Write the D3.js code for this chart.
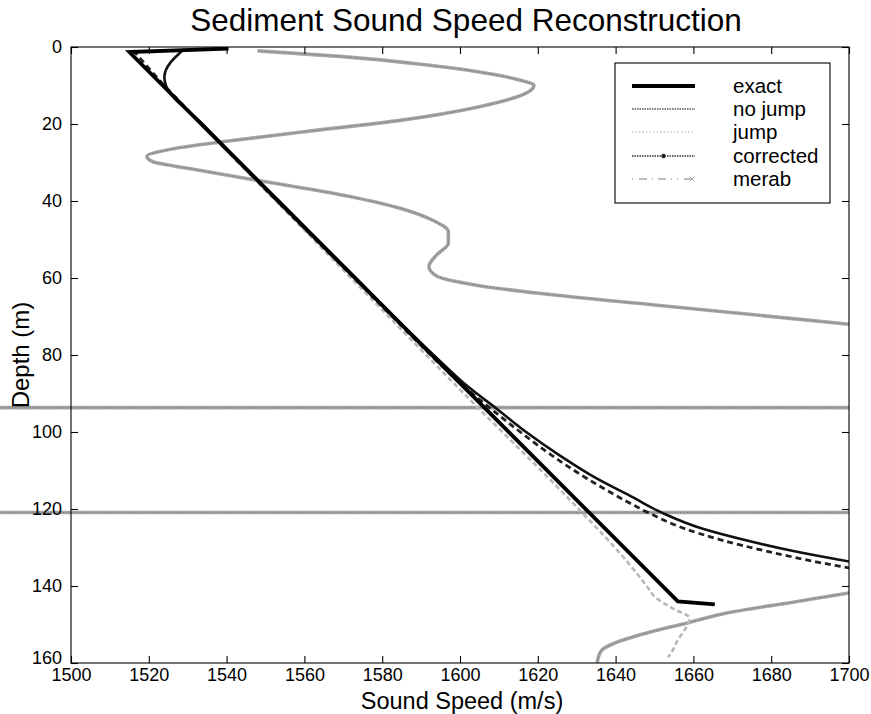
<!DOCTYPE html>
<html>
<head>
<meta charset="utf-8">
<script src="https://cdn.jsdelivr.net/npm/d3@7"></script>
<style>
  html, body { margin: 0; padding: 0; background: #fff; }
  svg { display: block; font-family: "Liberation Sans", Arial, Helvetica, sans-serif; }
</style>
</head>
<body>
<svg id="chart" width="871" height="714"></svg>
<script>
// Axis ticks
const speedTicks = [1500, 1520, 1540, 1560, 1580, 1600, 1620, 1640, 1660, 1680, 1700];
const depthTicks = [0, 20, 40, 60, 80, 100, 120, 140, 160];

// exact profile: surface step, linear gradient, basement jump
const exactDepth = [0.4, 1.3, 144.0, 144.8];
const exactSpeed = [1540.5, 1515.0, 1656.0, 1665.5];

// inversion without the jump term
const noJumpDepth = [0.6, 2, 4, 6, 8, 10, 20, 40, 60, 75, 82, 88, 94, 100, 106, 112, 117, 121, 125, 128, 131, 134, 137];
const noJumpSpeed = [1529.0, 1527.5, 1525.6, 1524.4, 1524.0, 1524.4, 1533.8, 1553.5, 1573.2, 1588.0, 1595.3, 1601.8, 1609.5, 1617.0, 1625.5, 1635.0, 1644.5, 1652.0, 1662.0, 1673.0, 1686.0, 1702.0, 1720.0];

// inversion with the jump term
const jumpDepth = [1.2, 30, 60, 90, 120, 132.5, 140, 143, 146, 148.3, 151, 154, 157, 158.5];
const jumpSpeed = [1515.0, 1543.0, 1572.0, 1601.0, 1630.5, 1642.0, 1648.0, 1650.3, 1655.0, 1659.0, 1658.0, 1656.0, 1654.5, 1653.5];

// corrected inversion
const correctedDepth = [0.9, 10, 20, 40, 60, 75, 82, 88, 94, 100, 106, 112, 117, 121, 125, 128, 131, 134, 137];
const correctedSpeed = [1516.0, 1524.0, 1533.5, 1553.0, 1572.8, 1587.5, 1594.5, 1600.8, 1608.0, 1615.5, 1623.5, 1632.5, 1641.0, 1648.5, 1657.5, 1667.0, 1679.0, 1693.0, 1710.0];

// merab reconstruction (leaves the axis range between ~72 m and ~142 m)
const merabDepth = [1.0, 2.5, 4.5, 6.5, 8.5, 10, 12, 15.5, 19, 22, 24.5, 26.5, 28.4, 29.8, 31.5, 35, 38.5, 42, 45, 48, 51, 54, 57, 59.5, 62, 64.5, 67, 69.5, 72, 77, 85, 92, 93.6, 93.8, 120.8, 121.0, 128, 134, 137.5, 139.5, 141.8, 144.2, 147, 149.6, 152.2, 154.8, 156.6, 158.7, 160];
const merabSpeed = [1548, 1570, 1590, 1605, 1615, 1619, 1617, 1605, 1585, 1560, 1540, 1526, 1519.5, 1521, 1530, 1550, 1570, 1585, 1593, 1597, 1597, 1594, 1592, 1594, 1605, 1625, 1650, 1675, 1700, 1750, 1850, 2200, 5000, -5000, -5000, 6000, 3000, 2000, 1760, 1714, 1700, 1685.6, 1668.6, 1658.4, 1648, 1639.8, 1636.5, 1635.5, 1635.3];

const legendLabels = ["exact", "no jump", "jump", "corrected", "merab"];

const svg = d3.select("#chart");
const margin = { top: 47, left: 71 };
const width = 778, height = 616;

const x = d3.scaleLinear().domain([1500, 1700]).range([0, width]);
const y = d3.scaleLinear().domain([0, 160]).range([0, height]);

const g = svg.append("g").attr("transform", `translate(${margin.left},${margin.top})`);

// clip: plot rectangle, opened to the page edge on the left
svg.append("defs").append("clipPath").attr("id", "plotClip")
  .append("rect").attr("x", -margin.left).attr("y", 0)
  .attr("width", width + margin.left).attr("height", height);

const zip = (ds, ss) => ds.map((d, i) => ({ d: d, s: ss[i] }));
const lineMono = d3.line().x(p => x(p.s)).y(p => y(p.d)).curve(d3.curveMonotoneY);
const lineLin = d3.line().x(p => x(p.s)).y(p => y(p.d));

const plot = g.append("g").attr("clip-path", "url(#plotClip)");

// merab: thick textured gray
plot.append("path").datum(zip(merabDepth, merabSpeed))
  .attr("d", lineMono).attr("fill", "none")
  .attr("stroke", "#a8a8a8").attr("stroke-width", 3.6);
plot.append("path").datum(zip(merabDepth, merabSpeed))
  .attr("d", lineMono).attr("fill", "none")
  .attr("stroke", "#858585").attr("stroke-width", 1.6).attr("stroke-dasharray", "1.5 1.5");

// jump: light gray dashes
plot.append("path").datum(zip(jumpDepth, jumpSpeed))
  .attr("d", lineMono).attr("fill", "none")
  .attr("stroke", "#b8b8b8").attr("stroke-width", 2.6).attr("stroke-dasharray", "5 3");

// corrected: dark dashes
plot.append("path").datum(zip(correctedDepth, correctedSpeed))
  .attr("d", lineMono).attr("fill", "none")
  .attr("stroke", "#222").attr("stroke-width", 2.8).attr("stroke-dasharray", "6 4");

// no jump: solid dark curve
plot.append("path").datum(zip(noJumpDepth, noJumpSpeed))
  .attr("d", lineMono).attr("fill", "none")
  .attr("stroke", "#111").attr("stroke-width", 2.6);

// exact: thick black
plot.append("path").datum(zip(exactDepth, exactSpeed))
  .attr("d", lineLin).attr("fill", "none")
  .attr("stroke", "#000").attr("stroke-width", 3.8).attr("stroke-linejoin", "miter");

// frame and inward ticks on all four sides
g.append("rect").attr("width", width).attr("height", height)
  .attr("fill", "none").attr("stroke", "#000").attr("stroke-width", 1.1);

const tickLen = 7;
const axisBottom = d3.axisBottom(x).tickValues(speedTicks).tickSize(-tickLen).tickPadding(5).tickFormat(d3.format("d"));
const axisTop = d3.axisTop(x).tickValues(speedTicks).tickSize(-tickLen).tickFormat("");
const axisLeft = d3.axisLeft(y).tickValues(depthTicks).tickSize(-tickLen).tickPadding(9).tickFormat(d3.format("d"));
const axisRight = d3.axisRight(y).tickValues(depthTicks).tickSize(-tickLen).tickFormat("");

function styleAxis(sel) {
  sel.select(".domain").remove();
  sel.selectAll(".tick line").attr("stroke", "#000").attr("stroke-width", 1.1);
  sel.selectAll(".tick text").attr("fill", "#000")
    .style("font-family", "'Liberation Sans', Arial, sans-serif").style("font-size", "18px");
}
g.append("g").attr("transform", `translate(0,${height})`).call(axisBottom).call(styleAxis);
g.append("g").call(axisTop).call(styleAxis);
const leftAxis = g.append("g").call(axisLeft).call(styleAxis);
// lift the bottom depth label clear of the first speed label
leftAxis.selectAll(".tick text").filter(d => d === 160).attr("y", -5);
g.append("g").attr("transform", `translate(${width},0)`).call(axisRight).call(styleAxis);

// titles
svg.append("text").attr("x", 466).attr("y", 31).attr("text-anchor", "middle")
  .style("font-size", "31.5px").text("Sediment Sound Speed Reconstruction");
svg.append("text").attr("x", 462).attr("y", 709).attr("text-anchor", "middle")
  .style("font-size", "23.5px").text("Sound Speed (m/s)");
svg.append("text").attr("transform", "translate(29,355) rotate(-90)").attr("text-anchor", "middle")
  .style("font-size", "24px").text("Depth (m)");

// legend
const leg = svg.append("g").attr("transform", "translate(615,63)");
leg.append("rect").attr("width", 215).attr("height", 140)
  .attr("fill", "#fff").attr("stroke", "#000").attr("stroke-width", 1.1);
const rowY = [23, 46, 69, 93, 116];
const sx0 = 17, sx1 = 80;
const sampleStyles = [
  { stroke: "#000", w: 4, dash: null },
  { stroke: "#555", w: 1.3, dash: "1.5 1" },
  { stroke: "#b0b0b0", w: 1.2, dash: "1.5 2" },
  { stroke: "#333", w: 1.4, dash: "1.5 1" },
  { stroke: "#bdbdbd", w: 2, dash: "1 6 8 5 1 5 8 5 1 5" }
];
legendLabels.forEach((lab, i) => {
  const st = sampleStyles[i];
  const ln = leg.append("line").attr("x1", sx0).attr("x2", sx1)
    .attr("y1", rowY[i]).attr("y2", rowY[i])
    .attr("stroke", st.stroke).attr("stroke-width", st.w);
  if (st.dash) ln.attr("stroke-dasharray", st.dash);
  leg.append("text").attr("x", 118).attr("y", rowY[i] + 7)
    .style("font-size", "20.5px").text(lab);
});
// corrected marker
leg.append("circle").attr("cx", (sx0 + sx1) / 2).attr("cy", rowY[3]).attr("r", 2.2).attr("fill", "#222");
// merab cross marker
const cx = sx1 - 3, cy = rowY[4];
leg.append("path").attr("d", `M${cx - 2.5},${cy - 2.5}L${cx + 2.5},${cy + 2.5}M${cx - 2.5},${cy + 2.5}L${cx + 2.5},${cy - 2.5}`)
  .attr("stroke", "#aaa").attr("stroke-width", 1);
</script>
</body>
</html>
